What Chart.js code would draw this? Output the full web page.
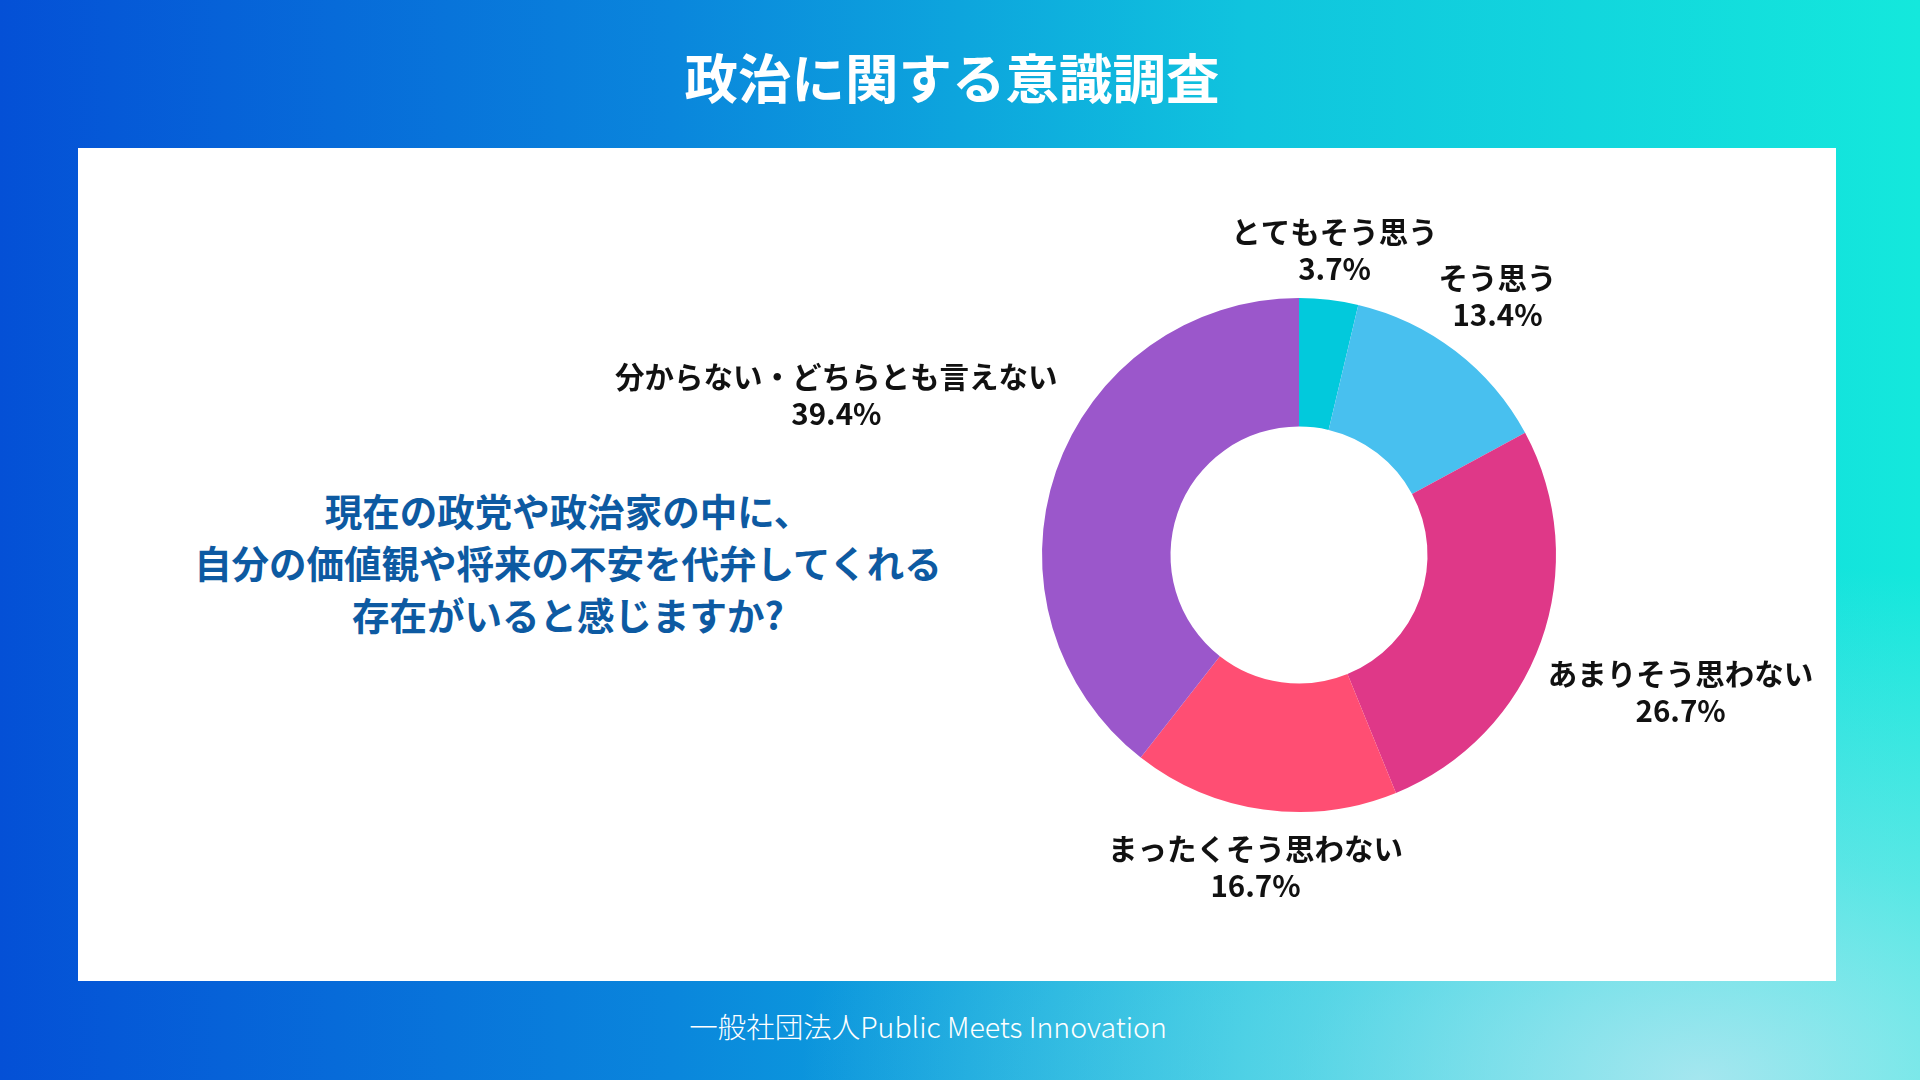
<!DOCTYPE html>
<html lang="ja">
<head>
<meta charset="utf-8">
<script src="https://cdn.jsdelivr.net/npm/chart.js@4.4.1/dist/chart.umd.min.js"></script>
<style>
  html, body { margin: 0; padding: 0; }
  body {
    width: 1920px; height: 1080px; overflow: hidden; position: relative;
    font-family: "Noto Sans CJK JP", "Noto Sans", sans-serif;
    background:
      radial-gradient(ellipse 900px 520px at 1700px 1080px, rgba(190,232,242,0.85) 0%, rgba(190,232,242,0.4) 45%, rgba(190,232,242,0) 100%),
      linear-gradient(90deg, #0450d6 0%, #0a86dc 35%, #10c4de 65%, #14e8dc 100%);
  }
  #title {
    position: absolute; left: 0; width: 1904px; top: 40px; text-align: center;
    color: #fff; font-weight: 700; font-size: 53.5px; line-height: 72px;
  }
  #panel {
    position: absolute; left: 78px; top: 148px; width: 1758px; height: 833px; background: #fff;
  }
  #question {
    position: absolute; left: 118px; width: 900px; top: 484px; text-align: center;
    color: #0d5aa2; font-weight: 700; font-size: 37.5px; line-height: 52px;
  }
  #footer {
    position: absolute; left: 0; width: 1856px; top: 1007px; text-align: center;
    color: #fff; font-weight: 300; font-size: 28.5px; line-height: 38px;
  }
  #c { position: absolute; left: 0; top: 0; }
</style>
</head>
<body>
<div id="title">政治に関する意識調査</div>
<div id="panel"></div>
<div id="question">現在の政党や政治家の中に、<br>自分の価値観や将来の不安を代弁してくれる<br>存在がいると感じますか?</div>
<div id="footer">一般社団法人Public Meets Innovation</div>
<canvas id="c" width="1920" height="1080"></canvas>
<script>
const categories = ["とてもそう思う", "そう思う", "あまりそう思わない", "まったくそう思わない", "分からない・どちらとも言えない"];
const values = [3.7, 13.4, 26.7, 16.7, 39.4];
const colors = ["#02c9dc", "#48c0ef", "#df3888", "#ff4e73", "#9b57cb"];

const outerLabels = {
  id: "outerLabels",
  afterDatasetsDraw(chart) {
    const ctx = chart.ctx;
    const meta = chart.getDatasetMeta(0);
    const fontSize = 29.5, lineH = 37, offset = 16;
    ctx.save();
    ctx.font = "700 " + fontSize + "px 'Noto Sans CJK JP', sans-serif";
    ctx.fillStyle = "#111";
    ctx.textAlign = "center";
    ctx.textBaseline = "middle";
    meta.data.forEach((arc, i) => {
      const p = arc.getProps(["x", "y", "startAngle", "endAngle", "outerRadius"], true);
      const mid = (p.startAngle + p.endAngle) / 2;
      const dx = Math.cos(mid), dy = Math.sin(mid);
      const l1 = categories[i];
      const l2 = values[i].toFixed(1) + "%";
      const w = Math.max(ctx.measureText(l1).width, ctx.measureText(l2).width);
      const h = lineH * 2 - 30;
      const proj = Math.abs(dx) * w / 2 + Math.abs(dy) * h / 2;
      const d = p.outerRadius + offset + proj;
      const cx = p.x + dx * d, cy = p.y + dy * d;
      ctx.fillText(l1, cx, cy - lineH / 2);
      ctx.fillText(l2, cx, cy + lineH / 2);
    });
    ctx.restore();
  }
};

new Chart(document.getElementById("c"), {
  type: "doughnut",
  data: {
    labels: categories,
    datasets: [{ data: values, backgroundColor: colors, borderWidth: 0, hoverOffset: 0 }]
  },
  options: {
    responsive: false,
    animation: false,
    devicePixelRatio: 1,
    cutout: "50%",
    layout: { padding: { left: 1042, right: 364, top: 298, bottom: 268 } },
    plugins: { legend: { display: false }, tooltip: { enabled: false } }
  },
  plugins: [outerLabels]
});
</script>
</body>
</html>
